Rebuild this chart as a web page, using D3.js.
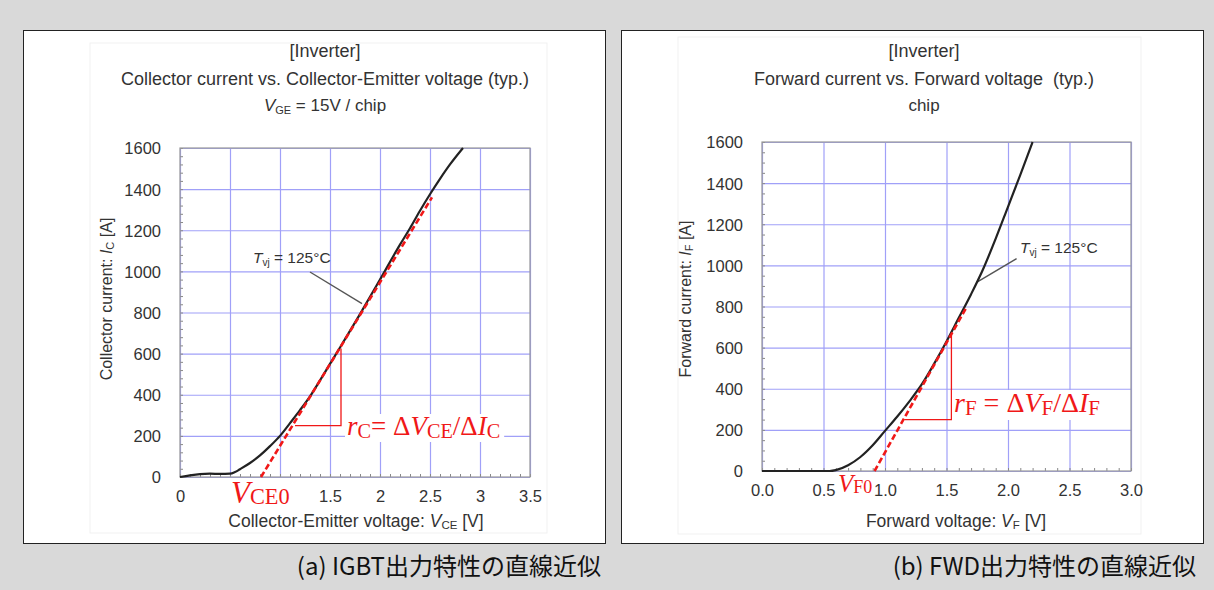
<!DOCTYPE html>
<html>
<head>
<meta charset="utf-8">
<script src="https://cdn.jsdelivr.net/npm/d3@7"></script>
<style>
body { margin: 0; background: #d9d9d9; }
text { font-family: "Liberation Sans", Arial, sans-serif; fill: #333; }
text.red { font-family: "Liberation Serif", "Times New Roman", serif; fill: #f01818; }
text.cap { font-family: "Noto Sans CJK JP", sans-serif; fill: #111; }
</style>
</head>
<body>
<svg id="chart" width="1214" height="590"></svg>
<script>
// IGBT output characteristic, Tvj = 125°C
var igbtV = [0, 0.1, 0.2, 0.3, 0.4, 0.5, 0.55, 0.6, 0.7, 0.8, 0.9, 1.0, 1.1, 1.2, 1.3, 1.4, 1.5, 1.6, 1.8, 2.0, 2.2, 2.3, 2.4, 2.5, 2.6, 2.7, 2.83];
var igbtI = [0, 8, 14, 16, 15, 16, 24, 38, 68, 105, 150, 200, 262, 325, 392, 470, 550, 630, 792, 960, 1130, 1210, 1295, 1375, 1450, 1520, 1600];
// linear fit + triangle + leader
var igbtFitV = [0.81, 2.52], igbtFitI = [0, 1360];
var igbtTriV = [1.15, 1.61, 1.61], igbtTriI = [250, 250, 625];
var igbtLeadV = [1.30, 1.82], igbtLeadI = [997, 843];

// FWD forward characteristic, Tvj = 125°C
var fwdV = [0, 0.55, 0.6, 0.7, 0.8, 0.9, 1.0, 1.1, 1.2, 1.3, 1.4, 1.5, 1.6, 1.7, 1.8, 1.9, 2.0, 2.1, 2.2];
var fwdI = [0, 0, 4, 28, 68, 125, 195, 265, 340, 422, 522, 630, 745, 860, 985, 1130, 1285, 1440, 1600];
var fwdFitV = [0.915, 1.667], fwdFitI = [0, 801];
var fwdTriV = [1.16, 1.54, 1.54], fwdTriI = [250, 250, 665];
var fwdLeadV = [1.748, 2.07], fwdLeadI = [919, 1033];

// ticks ("0.5" and "1" of the IGBT axis sit under the V_CE0 label)
var yTicks = [0, 200, 400, 600, 800, 1000, 1200, 1400, 1600];
var igbtXTicks = [0, 0.5, 1, 1.5, 2, 2.5, 3, 3.5];
var igbtXLabels = ["0", "", "", "1.5", "2", "2.5", "3", "3.5"];
var fwdXTicks = [0, 0.5, 1, 1.5, 2, 2.5, 3];
var fwdXLabels = ["0.0", "0.5", "1.0", "1.5", "2.0", "2.5", "3.0"];

var svg = d3.select("#chart");

svg.append("rect").attr("width", 1214).attr("height", 590).attr("fill", "#d9d9d9");

function zip(a, b) { return a.map(function (v, i) { return [v, b[i]]; }); }

function panel(p) {
    var g = svg.append("g");
    g.append("rect")
        .attr("x", p.box[0] + 0.5).attr("y", 30.5)
        .attr("width", p.box[1] - p.box[0]).attr("height", 513)
        .attr("fill", "#fff").attr("stroke", "#222").attr("stroke-width", 1);
    // faint edge of the pasted picture
    g.append("rect")
        .attr("x", p.img[0]).attr("y", p.img[1])
        .attr("width", p.img[2]).attr("height", p.img[3])
        .attr("fill", "none").attr("stroke", "#f1f1f1");

    var x = d3.scaleLinear().domain([0, p.xMax]).range([p.left, p.right]);
    var y = d3.scaleLinear().domain([0, 1600]).range([p.bottom, p.top]);
    var w = p.right - p.left, h = p.bottom - p.top;

    // grid
    g.append("g")
        .attr("transform", "translate(0," + p.bottom + ")")
        .call(d3.axisBottom(x).tickValues(p.xTicks).tickSize(-h).tickFormat(""))
        .call(function (s) { s.select(".domain").remove(); })
        .selectAll("line").attr("stroke", "#a0a0f8").attr("stroke-width", 1.2);
    g.append("g")
        .attr("transform", "translate(" + p.left + ",0)")
        .call(d3.axisLeft(y).tickValues(yTicks).tickSize(-w).tickFormat(""))
        .call(function (s) { s.select(".domain").remove(); })
        .selectAll("line").attr("stroke", "#a0a0f8").attr("stroke-width", 1.2);

    // minor ticks
    var xm = d3.range(0, Math.round(p.xMax * 10) + 1).map(function (i) { return i / 10; });
    var ym = d3.range(0, 1601, p.yMinor);
    g.append("g")
        .attr("transform", "translate(0," + p.bottom + ")")
        .call(d3.axisBottom(x).tickValues(xm).tickSize(-3).tickFormat(""))
        .call(function (s) { s.select(".domain").remove(); })
        .selectAll("line").attr("stroke", "#888");
    g.append("g")
        .attr("transform", "translate(" + p.left + ",0)")
        .call(d3.axisLeft(y).tickValues(ym).tickSize(-3).tickFormat(""))
        .call(function (s) { s.select(".domain").remove(); })
        .selectAll("line").attr("stroke", "#888");

    g.append("rect")
        .attr("x", p.left).attr("y", p.top).attr("width", w).attr("height", h)
        .attr("fill", "none").attr("stroke", "#999").attr("stroke-width", 1.2);

    // tick labels
    var xa = g.append("g")
        .attr("transform", "translate(0," + p.bottom + ")")
        .call(d3.axisBottom(x).tickValues(p.xTicks).tickSize(0)
            .tickFormat(function (d, i) { return p.xLabels[i]; }));
    xa.select(".domain").remove();
    xa.selectAll("text").attr("y", 25).attr("dy", 0).attr("font-size", 16.5).attr("fill", "#333");
    var ya = g.append("g")
        .attr("transform", "translate(" + p.left + ",0)")
        .call(d3.axisLeft(y).tickValues(yTicks).tickSize(0).tickPadding(19).tickFormat(d3.format("d")));
    ya.select(".domain").remove();
    ya.selectAll("text").attr("font-size", 16.5).attr("dy", "0.36em").attr("fill", "#333");

    // titles
    var cx = p.titleX;
    g.append("text").attr("x", cx).attr("y", 57).attr("text-anchor", "middle")
        .attr("font-size", 18).text("[Inverter]");
    g.append("text").attr("x", cx).attr("y", 85).attr("text-anchor", "middle")
        .attr("font-size", 18).attr("xml:space", "preserve").text(p.title);
    var st = g.append("text").attr("x", cx).attr("y", 111).attr("text-anchor", "middle")
        .attr("font-size", 17);
    if (p.sub) {
        st.append("tspan").attr("font-style", "italic").text(p.sub[0]);
        st.append("tspan").attr("font-size", 11).attr("dy", 3).text(p.sub[1]);
        st.append("tspan").attr("dy", -3).text(p.sub[2]);
    } else {
        st.text(p.subPlain);
    }

    // axis titles
    var xt = g.append("text").attr("x", p.xTitleX).attr("y", 527)
        .attr("text-anchor", "middle").attr("font-size", 17.5);
    xt.append("tspan").text(p.xTitle[0]);
    xt.append("tspan").attr("font-style", "italic").text(p.xTitle[1]);
    xt.append("tspan").attr("font-size", 11.5).attr("dy", 2).text(p.xTitle[2]);
    xt.append("tspan").attr("dy", -2).text(p.xTitle[3]);

    var yt = g.append("text")
        .attr("transform", "translate(" + p.yTitleX + ",299) rotate(-90)")
        .attr("text-anchor", "middle").attr("font-size", 16);
    yt.append("tspan").text(p.yTitle[0]);
    yt.append("tspan").attr("font-style", "italic").text(p.yTitle[1]);
    yt.append("tspan").attr("font-size", 11).attr("dy", 2).text(p.yTitle[2]);
    yt.append("tspan").attr("dy", -2).text(p.yTitle[3]);

    var line = d3.line().x(function (d) { return x(d[0]); }).y(function (d) { return y(d[1]); });

    // leader + temperature label
    g.append("path").attr("d", line(zip(p.leadV, p.leadI)))
        .attr("stroke", "#555").attr("stroke-width", 1.4).attr("fill", "none");
    var tl = g.append("text").attr("x", p.tvj[0]).attr("y", p.tvj[1]).attr("font-size", 15.5);
    tl.append("tspan").attr("font-style", "italic").text("T");
    tl.append("tspan").attr("font-size", 10).attr("dy", 3).text("vj");
    tl.append("tspan").attr("dy", -3).text(" = 125°C");

    // measured curve
    g.append("path")
        .attr("d", line.curve(d3.curveMonotoneX)(zip(p.v, p.i)))
        .attr("stroke", "#222").attr("stroke-width", 2.2).attr("fill", "none");
    line.curve(d3.curveLinear);

    // triangle
    g.append("path").attr("d", line(zip(p.triV, p.triI)))
        .attr("stroke", "#f01818").attr("stroke-width", 1.3).attr("fill", "none");
    // linear approximation
    g.append("path").attr("d", line(zip(p.fitV, p.fitI)))
        .attr("stroke", "#f01818").attr("stroke-width", 2.6)
        .attr("stroke-dasharray", "6,3").attr("fill", "none");

    // r label
    var rl = g.append("text").attr("class", "red").attr("x", p.rPos[0]).attr("y", p.rPos[1])
        .attr("font-size", p.rSize);
    rl.append("tspan").attr("font-style", "italic").text("r");
    rl.append("tspan").attr("font-size", p.rSize * 0.75).attr("dy", 3).text(p.rSub);
    rl.append("tspan").attr("dy", -3).attr("xml:space", "preserve").text(p.rEq + "Δ");
    rl.append("tspan").attr("font-style", "italic").text("V");
    rl.append("tspan").attr("font-size", p.rSize * 0.75).attr("dy", 3).text(p.vSub);
    rl.append("tspan").attr("dy", -3).text("/Δ");
    rl.append("tspan").attr("font-style", "italic").text("I");
    rl.append("tspan").attr("font-size", p.rSize * 0.75).attr("dy", 3).text(p.iSub);
    var bb = rl.node().getBBox();
    g.insert("rect", function () { return rl.node(); })
        .attr("x", bb.x - 2).attr("y", bb.y + 3).attr("width", bb.width + 6).attr("height", bb.height - 3)
        .attr("fill", "#fff");

    // V0 label
    var vl = g.append("text").attr("class", "red").attr("x", p.v0Pos[0]).attr("y", p.v0Pos[1])
        .attr("font-size", p.v0Size);
    vl.append("tspan").attr("font-style", "italic").text("V");
    vl.append("tspan").attr("font-size", p.v0Size * 0.72).attr("dy", 1).text(p.v0Sub);
    if (p.v0Pad) {
        var vb = vl.node().getBBox();
        g.insert("rect", function () { return vl.node(); })
            .attr("x", vb.x - p.v0Pad).attr("y", vb.y + 4).attr("width", vb.width + p.v0Pad + 3)
            .attr("height", vb.height - 4).attr("fill", "#fff");
    }

    // caption
    svg.append("text").attr("class", "cap").attr("x", p.capX).attr("y", 575)
        .attr("text-anchor", "end").attr("font-size", 24).text(p.caption);
}

panel({
    box: [23, 605], img: [90, 43, 457, 490],
    left: 180, right: 530, top: 148, bottom: 477, xMax: 3.5, yMinor: 40,
    xTicks: igbtXTicks, xLabels: igbtXLabels,
    titleX: 325, title: "Collector current vs. Collector-Emitter voltage (typ.)",
    sub: ["V", "GE", " = 15V / chip"],
    xTitleX: 356, xTitle: ["Collector-Emitter voltage: ", "V", "CE", " [V]"],
    yTitleX: 112, yTitle: ["Collector current: ", "I", "C", " [A]"],
    v: igbtV, i: igbtI, fitV: igbtFitV, fitI: igbtFitI,
    triV: igbtTriV, triI: igbtTriI, leadV: igbtLeadV, leadI: igbtLeadI,
    tvj: [253, 263],
    rPos: [347, 435], rSize: 27, rSub: "C", rEq: "= ", vSub: "CE", iSub: "C",
    v0Pos: [231, 503], v0Size: 31, v0Sub: "CE0", v0Pad: 12,
    capX: 601, caption: "(a) IGBT出力特性の直線近似"
});

panel({
    box: [621, 1203], img: [678, 37, 463, 497],
    left: 762, right: 1131, top: 142, bottom: 471, xMax: 3, yMinor: 50,
    xTicks: fwdXTicks, xLabels: fwdXLabels,
    titleX: 924, title: "Forward current vs. Forward voltage  (typ.)",
    subPlain: "chip",
    xTitleX: 956, xTitle: ["Forward voltage: ", "V", "F", " [V]"],
    yTitleX: 691, yTitle: ["Forward current: ", "I", "F", " [A]"],
    v: fwdV, i: fwdI, fitV: fwdFitV, fitI: fwdFitI,
    triV: fwdTriV, triI: fwdTriI, leadV: fwdLeadV, leadI: fwdLeadI,
    tvj: [1020, 253],
    rPos: [954, 412], rSize: 28, rSub: "F", rEq: " = ", vSub: "F", iSub: "F",
    v0Pos: [838, 492], v0Size: 25, v0Sub: "F0", v0Pad: 0,
    capX: 1196, caption: "(b) FWD出力特性の直線近似"
});
</script>
</body>
</html>
